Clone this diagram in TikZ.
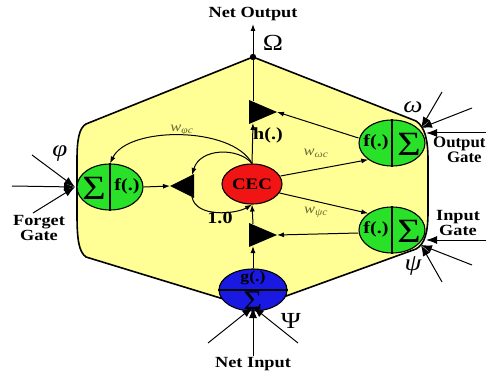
\documentclass[tikz,border=0pt]{standalone}
\usepackage{fontspec}
\setmainfont{Liberation Serif}
\newfontfamily\wf[FakeStretch=1.18]{Liberation Serif}
\newfontfamily\wg[FakeStretch=1.05]{Liberation Serif}
\usetikzlibrary{arrows.meta,shapes.geometric}
\definecolor{hexyellow}{RGB}{255,255,150}
\definecolor{gategreen}{RGB}{40,225,40}
\definecolor{cecred}{RGB}{240,20,20}
\definecolor{inblue}{RGB}{25,25,225}
\definecolor{wcol}{RGB}{105,105,55}
\begin{document}
\begin{tikzpicture}[x=1pt,y=-1pt,
  lbl/.style={font=\wf\bfseries\fontsize{15.5}{12}\selectfont, inner sep=0pt, align=center},
  gk/.style={font=\wf\fontsize{23}{23}\selectfont, inner sep=0pt},
  gki/.style={font=\wf\itshape\fontsize{23}{23}\selectfont, inner sep=0pt},
  fn/.style={font=\wf\bfseries\fontsize{17}{17}\selectfont, inner sep=0pt},
  sig/.style={font=\wf\fontsize{34}{34}\selectfont, inner sep=0pt},
  wl/.style={font=\wf\itshape\fontsize{14}{14}\selectfont, text=wcol, inner sep=0pt},
  gate/.style={ellipse, draw=black, line width=1.1pt, fill=gategreen, minimum width=66pt, minimum height=46pt, inner sep=0pt},
  conn/.style={line width=1pt, -{Latex[length=7pt,width=5pt]}},
  inarr/.style={line width=1pt, -{Latex[length=11pt,width=8pt]}},
  mult/.style={fill=black}
]
\useasboundingbox (0,0) rectangle (486,374);
% hexagon body
\draw[line width=1.6pt, fill=hexyellow]
  (253,57) -- (86,124) .. controls (79,128) and (77,140) .. (77,160) -- (77,215)
  .. controls (77,240) and (79,252) .. (86,257) -- (253,308) -- (416,249)
  .. controls (425,244) and (428,232) .. (428,212) -- (428,160)
  .. controls (428,140) and (425,127) .. (416,121) -- cycle;
\coordinate (topv) at (253,57);
\coordinate (netout) at (253,24);
% nodes
\node[ellipse, draw=black, line width=1.1pt, fill=cecred, minimum width=60pt, minimum height=40pt, inner sep=0pt] (cec) at (252,184) {};
\node[lbl, font=\wf\bfseries\fontsize{16}{16}\selectfont] (tcec) at (cec) {CEC};
\node[gate] (fg) at (110,187) {};
\node[gate] (og) at (392,143) {};
\node[gate] (ig) at (392,230) {};
\node[ellipse, draw=black, line width=1.1pt, fill=inblue, minimum width=68pt, minimum height=42pt, inner sep=0pt] (ni) at (253,290) {};
\draw[line width=1.1pt] (fg.north) -- (fg.south);
\draw[line width=1.1pt] (og.north) -- (og.south);
\draw[line width=1.1pt] (ig.north) -- (ig.south);
\draw[line width=1.1pt] (ni.west) -- (ni.east);
\node[sig] (fgs) at (94,188) {Σ};
\node[fn] (fgf) at (127,186) {f(.)};
\node[fn] (ogf) at (376,142) {f(.)};
\node[sig] (ogs) at (409,144) {Σ};
\node[fn] (igf) at (376,229) {f(.)};
\node[sig] (igs) at (409,231) {Σ};
\node[fn, font=\wf\bfseries\fontsize{15}{15}\selectfont] (nig) at (253,278) {g(.)};
\node[sig, font=\wf\fontsize{27}{27}\selectfont] (nis) at (253,301) {Σ};
% multiplicative units
\coordinate (mtA) at (277,112);
\coordinate (mtT) at (253,101); \coordinate (mtD) at (253,123);
\fill[mult] (249,100) -- (277,112) -- (249,124) -- cycle;
\coordinate (mbA) at (277,235); \coordinate (mbT) at (253,224); \coordinate (mbD) at (253,246);
\fill[mult] (249,223) -- (277,235) -- (249,247) -- cycle;
\coordinate (mlA) at (170,186); \coordinate (mlT) at (192,175); \coordinate (mlD) at (192,197);
\fill[mult] (194,174) -- (170,186) -- (194,198) -- cycle;
% vertical data path
\draw[conn] (ni.north) -- (mbD);
\draw[conn] (mbT) -- (cec.south);
\draw[conn] (cec.north) -- (mtD);
\draw[line width=1pt] (mtT) -- (topv);
\fill (topv) circle (3.2pt);
\draw[conn] (topv) -- (netout);
% gate signals into multipliers
\draw[conn] (og.west) ++(0,-5) -- (mtA);
\draw[conn] (ig.west) ++(0,3) -- (mbA);
\draw[conn] (fg.east) -- (mlA);
% CEC loops
\draw[conn] (cec.north) .. controls (238,147) and (200,148) .. (mlT);
\draw[conn] (mlD) .. controls (196,218) and (236,214) .. (cec.south);
\draw[conn] (cec.north) .. controls (232,126) and (128,126) .. (fg.north);
% peepholes
\draw[conn] (cec.east) ++(-2,-8) -- (og.south west);
\draw[conn] (cec.east) ++(-3,9) -- (ig.north west);
% external inputs
\coordinate (fgin) at (75,187);
\coordinate (fi1) at (12,186); \coordinate (fi2) at (32,155); \coordinate (fi3) at (33,213);
\draw[inarr] (fi1) -- (fgin);
\draw[inarr] (fi2) -- (fgin);
\draw[inarr] (fi3) -- (fgin);
\coordinate (ogin) at (421,128);
\coordinate (oi1) at (442,92); \coordinate (oi2) at (472,108); \coordinate (oi3) at (490,133); \coordinate (oi3b) at (426,133);
\draw[inarr] (oi1) -- (ogin);
\draw[inarr] (oi2) -- (ogin);
\draw[inarr] (oi3) -- (oi3b);
\coordinate (igin) at (421,245);
\coordinate (ii1) at (490,240); \coordinate (ii1b) at (426,240); \coordinate (ii2) at (472,265); \coordinate (ii3) at (442,282);
\draw[inarr] (ii1) -- (ii1b);
\draw[inarr] (ii2) -- (igin);
\draw[inarr] (ii3) -- (igin);
\coordinate (niin) at (253,307);
\coordinate (nn1) at (253,356); \coordinate (nn2) at (208,343); \coordinate (nn3) at (298,343);
\draw[inarr] (nn1) -- (niin);
\draw[inarr] (nn2) -- (niin);
\draw[inarr] (nn3) -- (niin);
% labels
\node[lbl] (tno) at (253,14) {Net Output};
\node[lbl] (tni) at (253,364) {Net Input};
\node[lbl] (tfg) at (39,228) {Forget\\Gate};
\node[lbl, font=\wg\bfseries\fontsize{16}{12}\selectfont, anchor=west] (tog) at (433,150) {Output\\\hspace*{10pt}Gate};
\node[lbl] (tig) at (458,223) {Input\\Gate};
\node[gk] (tOm) at (273,43) {Ω};
\node[gki] (tom) at (413,107) {ω};
\node[gki] (tphi) at (60,154) {φ};
\node[gki] (tpsi) at (413,266) {ψ};
\node[gk] (tPsi) at (291,321) {Ψ};
\node[fn] (th) at (268,135) {h(.)};
\node[fn] (t10) at (220,218) {1.0};
\node[wl] (wphi) at (182,130) {w\textsubscript{φc}};
\node[wl] (wom) at (316,153) {w\textsubscript{ωc}};
\node[wl] (wpsi) at (316,212) {w\textsubscript{ψc}};
\end{tikzpicture}
\end{document}
